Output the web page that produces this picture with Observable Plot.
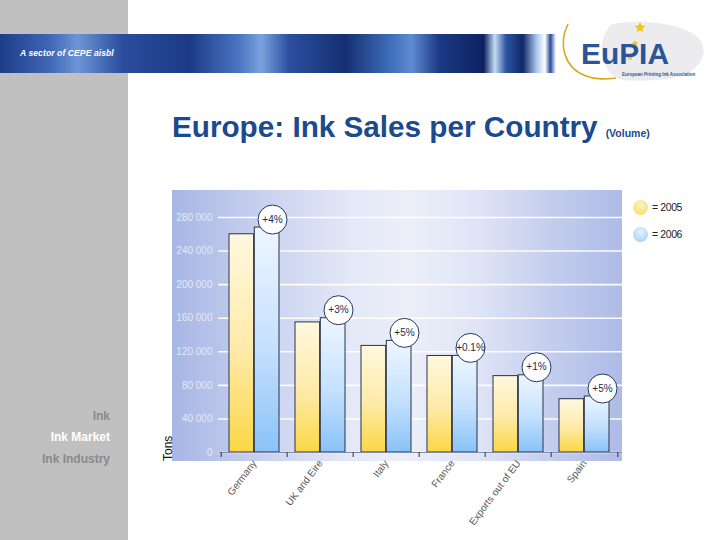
<!DOCTYPE html>
<html>
<head>
<meta charset="utf-8">
<script src="https://cdn.jsdelivr.net/npm/d3@7"></script>
<script src="https://cdn.jsdelivr.net/npm/@observablehq/plot@0.6"></script>
<style>
  html, body { margin: 0; padding: 0; background: #ffffff; }
  #page { position: relative; width: 720px; height: 540px; overflow: hidden; font-family: "Liberation Sans", Arial, sans-serif; }
  .abs { position: absolute; }
  #sidebar { left: 0; top: 0; width: 128px; height: 540px; background: #c0c0c0; }
  #banner { left: 0; top: 34px; width: 556px; height: 39px;
    background: linear-gradient(90deg, #1d3c88 0%, #3f67b6 9%, #6d95d6 14%, #2a4d9c 22%, #1c3a86 34%, #4a76c2 43%, #7aa2de 47%, #2b4f9e 52%, #152f72 62%, #3e6cb8 70%, #5e8bd0 74%, #1b3985 79%, #0d2260 87%, #c6dcf3 89%, #2c56a2 91%, #0f2766 94%, #a9c6ea 96.5%, #ffffff 98%, #2a4c99 99%, #ffffff 100%); }
  #bannertext { left: 20px; top: 47px; color: #ffffff; font-size: 9.5px; font-weight: bold; font-style: italic; transform: scaleX(0.9); transform-origin: left center; letter-spacing: 0.1px; }
  #title { left: 172px; top: 112px; font-size: 29.7px; line-height: 29px; font-weight: bold; color: #1b4a8e; white-space: nowrap; }
  #title small { font-size: 10.5px; font-weight: bold; margin-left: 8px; }
  #panel { left: 172px; top: 190px; width: 450px; height: 271px;
    background: linear-gradient(90deg, #a8b6e5 0%, #c8d1ef 20%, #e4e8f7 40%, #eceff9 52%, #dfe4f6 68%, #c2cced 85%, #aebbe7 100%); }
  #chart { left: 172px; top: 190px; }
  #tons { left: 161px; top: 461px; transform: rotate(-90deg); transform-origin: left top; font-size: 12px; color: #111; }
  .side { right: 610px; font-size: 12px; font-weight: bold; white-space: nowrap; }
  .leg { font-size: 10.5px; color: #222; letter-spacing: -0.4px; }
  .legdot { width: 15px; height: 15px; border-radius: 50%; }
</style>
</head>
<body>
<div id="page">
  <div id="sidebar" class="abs"></div>
  <div id="banner" class="abs"></div>
  <div id="bannertext" class="abs">A sector of CEPE aisbl</div>
  <svg class="abs" style="left:550px;top:10px" width="170" height="80" viewBox="0 0 170 80">
    <path d="M62,14 C90,8 140,14 150,30 C158,40 152,55 140,62 C125,70 95,72 72,70 C58,66 50,50 52,35 C54,24 57,18 62,14 Z" fill="#ececef"/>
    <path d="M18,14 C8,34 14,58 36,66 C46,70 56,69 66,68" fill="none" stroke="#d9a821" stroke-width="1.6"/>
    <path d="M90,12 l1.6,3.6 3.9,.3 -3,2.5 .9,3.8 -3.4,-2 -3.4,2 .9,-3.8 -3,-2.5 3.9,-.3z" fill="#f0c419"/>
    <path d="M85,30 l1,2.2 2.4,.2 -1.8,1.5 .6,2.3 -2.2,-1.2 -2.1,1.2 .6,-2.3 -1.9,-1.5 2.4,-.2z" fill="#f0c419"/>
    <path d="M80,44 l1,2.2 2.4,.2 -1.8,1.5 .6,2.3 -2.2,-1.2 -2.1,1.2 .6,-2.3 -1.9,-1.5 2.4,-.2z" fill="#f0c419"/>
    <text x="31" y="54" font-family="Liberation Sans, Arial" font-weight="bold" font-size="30" fill="#2b5597" textLength="88" lengthAdjust="spacingAndGlyphs">EuPIA</text>
    <text x="72" y="66" font-family="Liberation Sans, Arial" font-weight="bold" font-size="4.5" fill="#2b5597">European Printing Ink Association</text>
  </svg>
  <div id="title" class="abs">Europe: Ink Sales per Country<small>(Volume)</small></div>
  <div class="abs side" style="top:409px;color:#8a8a8a">Ink</div>
  <div class="abs side" style="top:430px;color:#ffffff">Ink Market</div>
  <div class="abs side" style="top:452px;color:#8a8a8a">Ink Industry</div>
  <div id="panel" class="abs"></div>
  <div id="chart" class="abs"></div>
  <div id="tons" class="abs">Tons</div>
  <div class="abs legdot" style="left:633px;top:200px;background:radial-gradient(circle at 50% 35%, #fff3c4 0%, #fde488 55%, #f8d64e 100%)"></div>
  <div class="abs leg" style="left:652px;top:201px">= 2005</div>
  <div class="abs legdot" style="left:633px;top:227px;background:radial-gradient(circle at 50% 35%, #e9f3ff 0%, #bcdcfb 55%, #94c6f6 100%)"></div>
  <div class="abs leg" style="left:652px;top:228px">= 2006</div>
</div>
<script>
const countries = ["Germany", "UK and Eire", "Italy", "France", "Exports out of EU", "Spain"];
const sales2005 = [260000, 155000, 127000, 115000, 91000, 63500];
const sales2006 = [268000, 160000, 133000, 115100, 92000, 66700];
const changes = ["+4%", "+3%", "+5%", "+0.1%", "+1%", "+5%"];
const yTicks = [0, 40000, 80000, 120000, 160000, 200000, 240000, 280000];

const rows = countries.map((c, i) => ({country: c, v2005: sales2005[i], v2006: sales2006[i], change: changes[i]}));

const W = 450, H = 345, mL = 47, mR = 3, mT = 27, mB = 83;
const bw = (W - mL - mR) / countries.length;
const plotH = H - mT - mB;
const fmt = d => d3.format(",")(d).replace(/,/g, " ");

const chart = Plot.plot({
  width: W,
  height: H,
  marginLeft: mL,
  marginRight: mR,
  marginTop: mT,
  marginBottom: mB,
  style: {background: "transparent", fontFamily: "Liberation Sans, Arial, sans-serif", overflow: "visible"},
  x: {domain: countries, padding: 0},
  y: {domain: [0, 280000], nice: false},
  marks: [
    Plot.gridY(yTicks, {stroke: "#ffffff", strokeOpacity: 0.95, strokeWidth: 1.6, insetLeft: -1, insetRight: -3}),
    Plot.axisY(yTicks, {tickSize: 0, tickPadding: 7, tickFormat: fmt, fill: "#e4e8f6", fontSize: 10, label: null}),
    Plot.barY(rows, {x: "country", y: "v2005", fill: "url(#gradY)", stroke: "#2c3346", strokeWidth: 1, insetLeft: 8, insetRight: bw - 33.3}),
    Plot.barY(rows, {x: "country", y: "v2006", fill: "url(#gradB)", stroke: "#2c3346", strokeWidth: 1, insetLeft: 33.3, insetRight: 8}),
    Plot.ruleY([0], {stroke: "#8088aa", strokeWidth: 1, insetRight: -3}),
    Plot.ruleX(countries, {x: d => d, dx: -bw / 2, insetTop: plotH, insetBottom: -5, stroke: "#333", strokeWidth: 1}),
    Plot.ruleX([countries[countries.length - 1]], {x: d => d, dx: bw / 2, insetTop: plotH, insetBottom: -5, stroke: "#333", strokeWidth: 1}),
    Plot.dot(rows, {x: "country", y: "v2006", dx: 18, dy: -8, r: 14.5, fill: "#ffffff", stroke: "#22385e", strokeWidth: 1}),
    Plot.text(rows, {x: "country", y: "v2006", text: "change", dx: 18, dy: -8, fontSize: 10, fill: "#1c2c4e"}),
    Plot.axisX({tickSize: 0, tickPadding: 9, tickRotate: -53, fontSize: 10, fill: "#555", label: null})
  ]
});

const svg = d3.select(chart);
const defs = svg.insert("defs", ":first-child");
const gy = defs.append("linearGradient").attr("id", "gradY").attr("x1", 0).attr("y1", 0).attr("x2", 0).attr("y2", 1);
gy.append("stop").attr("offset", "0%").attr("stop-color", "#fff8e0");
gy.append("stop").attr("offset", "55%").attr("stop-color", "#feeaa6");
gy.append("stop").attr("offset", "100%").attr("stop-color", "#fbd744");
const gb = defs.append("linearGradient").attr("id", "gradB").attr("x1", 0).attr("y1", 0).attr("x2", 0).attr("y2", 1);
gb.append("stop").attr("offset", "0%").attr("stop-color", "#eef6ff");
gb.append("stop").attr("offset", "55%").attr("stop-color", "#c3e0fd");
gb.append("stop").attr("offset", "100%").attr("stop-color", "#8ac2f8");

document.getElementById("chart").appendChild(chart);
</script>
</body>
</html>
